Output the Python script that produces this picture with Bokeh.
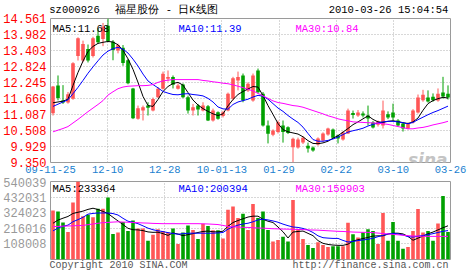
from bokeh.plotting import figure
from bokeh.models import (ColumnDataSource, Range1d, FixedTicker, PrintfTickFormatter, Label,
                          LinearAxis, CustomJSTickFormatter)
from bokeh.layouts import column
from bokeh.embed import file_html
from bokeh.resources import INLINE

# ---------------- data ----------------
stock_code = "sz000926"
stock_title = "福星股份 - 日K线图"
timestamp = "2010-03-26 15:04:54"
copyright_text = "Copyright 2010 SINA.COM"
site_text = "http://finance.sina.com.cn"
x_labels = ["09-11-25", "12-10", "12-28", "10-01-13", "01-29", "02-22", "03-10", "03-26"]
price_ticks = [9.350, 9.929, 10.508, 11.087, 11.666, 12.245, 12.824, 13.403, 13.982, 14.561]
volume_ticks = [108008, 216016, 324023, 432031, 540039]

opens = [11.13, 12.14, 11.59, 11.52, 11.66, 13.20, 13.04, 13.46, 13.20, 13.94,
         13.82, 14.30, 13.72, 13.40, 13.50, 13.05, 12.03, 10.93, 11.23, 11.41,
         11.23, 11.71, 12.02, 12.38, 12.44, 12.02, 12.17, 11.71, 11.23, 11.41,
         11.23, 11.39, 10.87, 11.17, 11.03, 11.23, 11.66, 12.32, 12.50, 11.96,
         11.59, 12.68, 11.84, 10.69, 10.35, 10.45, 10.69, 10.63, 9.90, 9.89,
         10.07, 9.96, 9.89, 10.00, 10.15, 10.36, 10.54, 10.33, 10.18, 10.40,
         11.14, 11.05, 11.12, 11.05, 10.80, 10.72, 10.69, 11.10, 11.16, 10.87,
         10.76, 10.58, 10.80, 11.16, 11.60, 11.70, 11.73, 11.59, 11.88, 11.84]
highs = [12.12, 12.50, 12.15, 11.90, 12.98, 13.88, 13.76, 13.62, 13.90, 14.20,
         14.40, 14.56, 13.78, 13.65, 13.60, 13.10, 12.05, 11.41, 11.41, 11.53,
         11.70, 12.08, 12.64, 12.68, 12.50, 12.21, 12.21, 11.77, 11.47, 11.47,
         11.53, 11.43, 11.30, 11.20, 11.22, 11.88, 12.45, 12.64, 12.57, 12.25,
         12.57, 12.75, 11.90, 10.87, 10.55, 10.87, 10.87, 10.66, 10.25, 10.25,
         10.30, 10.07, 9.93, 10.26, 10.44, 10.61, 10.58, 10.36, 10.48, 11.30,
         11.23, 11.25, 11.20, 11.41, 10.85, 10.87, 11.59, 11.20, 11.48, 10.92,
         10.80, 10.80, 11.28, 11.81, 11.98, 11.96, 11.85, 12.03, 12.45, 12.14]
lows = [11.05, 11.60, 11.47, 11.48, 11.62, 13.04, 12.98, 12.97, 13.15, 13.65,
        13.56, 13.70, 13.05, 13.30, 12.85, 12.18, 10.92, 10.90, 10.87, 11.05,
        11.20, 11.68, 11.99, 12.28, 12.03, 11.99, 11.68, 11.12, 11.05, 11.05,
        11.20, 10.85, 10.83, 10.90, 10.98, 11.20, 11.60, 11.96, 11.53, 11.90,
        11.55, 11.85, 10.65, 10.04, 10.30, 10.40, 10.07, 10.38, 9.36, 9.85,
        10.02, 9.71, 9.74, 9.96, 10.11, 10.32, 10.20, 10.04, 10.14, 10.38,
        10.94, 11.00, 10.98, 10.69, 10.58, 10.65, 10.58, 10.92, 10.87, 10.65,
        10.47, 10.55, 10.76, 11.12, 11.55, 11.52, 11.55, 11.55, 11.66, 11.63]
closes = [12.10, 11.68, 11.52, 11.82, 12.94, 13.85, 13.64, 13.04, 13.85, 13.70,
          14.26, 13.75, 13.42, 13.60, 12.95, 12.22, 10.95, 11.31, 11.35, 11.33,
          11.65, 12.02, 12.56, 12.44, 12.16, 12.14, 11.71, 11.23, 11.35, 11.27,
          11.41, 10.87, 11.23, 10.93, 11.17, 11.84, 12.40, 12.44, 11.59, 12.20,
          12.50, 11.89, 10.69, 10.39, 10.51, 10.81, 10.45, 10.42, 10.21, 10.18,
          10.25, 9.86, 9.78, 10.22, 10.40, 10.58, 10.25, 10.22, 10.44, 11.23,
          11.07, 11.16, 11.05, 10.94, 10.62, 10.83, 11.23, 10.98, 10.98, 10.69,
          10.58, 10.76, 11.23, 11.70, 11.80, 11.56, 11.60, 11.84, 11.74, 11.70]
volumes = [340000, 333000, 256000, 191000, 394000, 540039, 300000, 310000, 292000, 351000,
           351000, 430000, 176000, 187000, 259000, 198000, 270000, 214000, 214000, 130000,
           171000, 209000, 198000, 187000, 214000, 108000, 187000, 236000, 205000, 142000,
           248000, 232000, 203000, 203000, 146000, 344000, 367000, 288000, 317000, 205000,
           385000, 288000, 333000, 205000, 124000, 135000, 157000, 124000, 412000, 209000,
           142000, 101000, 79000, 119000, 101000, 86000, 92000, 92000, 92000, 254000,
           175000, 153000, 187000, 209000, 198000, 108000, 322000, 130000, 259000, 130000,
           74000, 86000, 198000, 349000, 187000, 198000, 130000, 250000, 439000, 191000]
ma5 = [11.51, 11.54, 11.57, 11.64, 12.14, 12.61, 13.02, 13.37, 13.55, 13.66,
       13.70, 13.73, 13.71, 13.61, 13.41, 13.10, 12.72, 12.25, 11.74, 11.41,
       11.38, 11.63, 11.92, 12.10, 12.21, 12.25, 12.15, 11.88, 11.61, 11.43,
       11.30, 11.20, 11.11, 11.05, 11.11, 11.40, 11.63, 11.81, 11.92, 12.01,
       12.10, 12.08, 11.77, 11.41, 11.09, 10.76, 10.54, 10.46, 10.42, 10.38,
       10.28, 10.14, 10.04, 10.03, 10.06, 10.12, 10.23, 10.32, 10.45, 10.58,
       10.72, 10.82, 10.93, 11.04, 10.91, 10.82, 10.80, 10.84, 10.86, 10.83,
       10.79, 10.76, 10.82, 10.96, 11.24, 11.48, 11.59, 11.66, 11.71, 11.68]
ma10 = [11.38, 11.46, 11.54, 11.62, 11.84, 12.07, 12.32, 12.58, 12.81, 13.03,
        13.24, 13.38, 13.47, 13.52, 13.45, 13.31, 13.09, 12.84, 12.55, 12.30,
        12.17, 12.05, 11.92, 11.86, 11.81, 11.80, 11.83, 11.84, 11.81, 11.79,
        11.76, 11.67, 11.54, 11.36, 11.29, 11.28, 11.45, 11.54, 11.59, 11.64,
        11.72, 11.78, 11.75, 11.64, 11.48, 11.32, 11.20, 11.05, 10.92, 10.80,
        10.63, 10.40, 10.18, 10.12, 10.12, 10.15, 10.20, 10.27, 10.36, 10.45,
        10.50, 10.54, 10.59, 10.67, 10.73, 10.78, 10.82, 10.84, 10.84, 10.82,
        10.79, 10.75, 10.80, 10.90, 10.99, 11.08, 11.16, 11.23, 11.31, 11.39]
ma30 = [10.46, 10.52, 10.58, 10.65, 10.78, 10.91, 11.05, 11.19, 11.32, 11.45,
        11.59, 11.79, 11.91, 12.02, 12.08, 12.11, 12.12, 12.13, 12.13, 12.14,
        12.17, 12.25, 12.30, 12.33, 12.35, 12.35, 12.35, 12.35, 12.35, 12.35,
        12.32, 12.30, 12.27, 12.25, 12.22, 12.20, 12.16, 12.11, 12.06, 12.00,
        11.94, 11.85, 11.76, 11.67, 11.58, 11.52, 11.49, 11.45, 11.41, 11.39,
        11.35, 11.29, 11.23, 11.17, 11.11, 11.04, 10.99, 10.93, 10.89, 10.86,
        10.82, 10.81, 10.80, 10.79, 10.78, 10.77, 10.75, 10.73, 10.69, 10.65,
        10.61, 10.57, 10.57, 10.60, 10.62, 10.66, 10.71, 10.75, 10.79, 10.84]
vol_ma5 = [251000, 273000, 286000, 298000, 319000, 327000, 335000, 347000, 355000, 346000,
           333000, 318000, 292000, 267000, 242000, 216000, 206000, 205000, 200000, 191000,
           188000, 189000, 179000, 167000, 184000, 176000, 165000, 172000, 179000, 187000,
           194000, 197000, 192000, 191000, 196000, 230000, 256000, 270000, 282000, 294000,
           300000, 300000, 278000, 265000, 256000, 225000, 192000, 149000, 190000, 194000,
           197000, 181000, 165000, 131000, 112000, 104000, 100000, 98000, 98000, 106000,
           128000, 137000, 145000, 153000, 162000, 164000, 164000, 176000, 182000, 182000,
           177000, 160000, 133000, 148000, 162000, 178000, 190000, 205000, 220000, 233364]
vol_ma10 = [198000, 218000, 230000, 238000, 262000, 276000, 292000, 314000, 319000, 322000,
            322000, 322000, 318000, 308000, 285000, 265000, 258000, 248000, 233000, 217000,
            206000, 199000, 193000, 186000, 180000, 175000, 179000, 182000, 182000, 182000,
            182000, 182000, 182000, 184000, 187000, 210000, 226000, 238000, 246000, 251000,
            261000, 274000, 279000, 274000, 267000, 258000, 245000, 234000, 225000, 222000,
            215000, 204000, 187000, 164000, 151000, 148000, 146000, 146000, 132000, 121000,
            125000, 131000, 135000, 140000, 147000, 158000, 167000, 177000, 181000, 177000,
            170000, 158000, 155000, 161000, 167000, 172000, 179000, 187000, 195000, 200394]
vol_ma30 = [228000, 229000, 231000, 232000, 233000, 235000, 236000, 241000, 246000, 251000,
            255000, 257000, 259000, 261000, 259000, 258000, 256000, 255000, 253000, 252000,
            250000, 249000, 248000, 248000, 248000, 248000, 248000, 248000, 248000, 248000,
            247000, 246000, 244000, 242000, 236000, 229000, 226000, 225000, 223000, 222000,
            220000, 218000, 217000, 215000, 213000, 212000, 211000, 210000, 209000, 208000,
            207000, 205000, 204000, 203000, 201000, 199000, 197000, 195000, 194000, 192000,
            190000, 189000, 188000, 188000, 186000, 183000, 180000, 177000, 174000, 171000,
            168000, 165000, 163000, 162000, 161000, 160000, 160000, 160000, 160000, 159903]

# ---------------- build ----------------
n = len(closes)
for arr in (opens, highs, lows, volumes, ma5, ma10, ma30, vol_ma5, vol_ma10, vol_ma30):
    assert len(arr) == n, len(arr)

RED = "#ff5656"
GREEN = "#00a000"
colors = [RED if c >= o else GREEN for o, c in zip(opens, closes)]
src = ColumnDataSource(dict(
    x=list(range(n)), high=highs, low=lows,
    top=[max(o, c) for o, c in zip(opens, closes)],
    bottom=[min(o, c) for o, c in zip(opens, closes)],
    color=colors, volume=volumes,
    ma5=ma5, ma10=ma10, ma30=ma30,
    vma5=vol_ma5, vma10=vol_ma10, vma30=vol_ma30))

W = 472
FL, FR = 50, 22
FW = W - FL - FR             # frame width in px
H1, H2 = 177, 96
FB1, FB2 = 162, 84           # frame bottoms in each figure's own pixels
MONO = "Liberation Mono"
GRID = "#b0b0b0"
FRAME = "#9a9a9a"
BODY_W = 0.72

x_range = Range1d(-0.5, n - 0.5)
grid_x = [-0.5 + n * k / 7 for k in range(8)]


def px2x(px):
    return -0.5 + (px - FL) * n / FW


def bare_axis(ax, color, size, standoff):
    ax.axis_line_color = None
    ax.major_tick_line_color = None
    ax.minor_tick_line_color = None
    ax.major_tick_out = 0
    ax.major_tick_in = 0
    ax.minor_tick_out = 0
    ax.minor_tick_in = 0
    ax.major_label_standoff = standoff
    ax.major_label_text_font = MONO
    ax.major_label_text_font_size = size
    ax.major_label_text_color = color


def style(p, ticks, fmt, color):
    p.outline_line_color = FRAME
    p.outline_line_width = 1
    p.background_fill_color = "white"
    p.border_fill_color = "white"
    p.yaxis.ticker = FixedTicker(ticks=ticks)
    p.yaxis.formatter = PrintfTickFormatter(format=fmt)
    bare_axis(p.yaxis[0], color, "12px", 4)
    p.xgrid.ticker = FixedTicker(ticks=grid_x[1:-1])
    p.ygrid.ticker = FixedTicker(ticks=[t for t in ticks if t != ticks[0] and t != ticks[-1]])
    p.xgrid.grid_line_color = GRID
    p.ygrid.grid_line_color = GRID
    p.xgrid.grid_line_dash = "1 2"
    p.ygrid.grid_line_dash = "1 2"


def put(p, fb, x, baseline, text, color="black", size="10.5px", font=MONO, align="left", style_=None):
    # Label screen units are measured from the frame's bottom-left corner
    lab = Label(x=x - FL, y=fb - baseline, x_units="screen", y_units="screen", text=text,
                text_color=color, text_font=font, text_font_size=size,
                text_align=align, text_baseline="alphabetic")
    if style_:
        lab.text_font_style = style_
    p.add_layout(lab)


# ---- price panel ----
p1 = figure(width=W, height=H1, x_range=x_range,
            y_range=Range1d(price_ticks[0] - 1e-6, price_ticks[-1] + 1e-6),
            output_backend="svg", toolbar_location=None,
            min_border_left=FL, min_border_right=FR, min_border_top=18, min_border_bottom=15)
style(p1, price_ticks, "%.3f", "#ff0000")

# date labels on the bottom axis
p1.xaxis.ticker = FixedTicker(ticks=grid_x)
p1.xaxis.formatter = CustomJSTickFormatter(args=dict(labels=x_labels, n=n),
                                           code="return labels[Math.round((tick + 0.5) * 7 / n)];")
bare_axis(p1.xaxis[0], "#1a7fd0", "10.5px", 3)

# header line as an axis above the frame
header = [stock_code, stock_title, timestamp]
header_axis = LinearAxis(ticker=FixedTicker(ticks=[px2x(74), px2x(166), px2x(388)]),
                         formatter=CustomJSTickFormatter(args=dict(labels=header),
                                                         code="return labels[index];"))
bare_axis(header_axis, "black", "10.5px", 3)
p1.add_layout(header_axis, "above")

p1.segment(x0="x", y0="low", x1="x", y1="high", line_color="color", line_width=1, source=src)
p1.vbar(x="x", width=BODY_W, top="top", bottom="bottom", fill_color="color", line_color=None, source=src)
p1.line("x", "ma5", line_color="black", line_width=1, source=src)
p1.line("x", "ma10", line_color="#0000ff", line_width=1, source=src)
p1.line("x", "ma30", line_color="#ff00ff", line_width=1, source=src)

put(p1, FB1, 52, 28.5, "MA5:%.2f" % ma5[-1])
put(p1, FB1, 178, 28.5, "MA10:%.2f" % ma10[-1], color="#0000ff")
put(p1, FB1, 295, 28.5, "MA30:%.2f" % ma30[-1], color="#ff00ff")
put(p1, FB1, 447, 159, "sina", color="#c4c4c4", size="17px", font="DejaVu Sans", align="right",
    style_="bold italic")

# ---- volume panel ----
p2 = figure(width=W, height=H2, x_range=x_range,
            y_range=Range1d(0, volume_ticks[-1] + 0.5),
            output_backend="svg", toolbar_location=None,
            min_border_left=FL, min_border_right=FR, min_border_top=4, min_border_bottom=12)
style(p2, [0] + volume_ticks, "%d", "#999999")
p2.yaxis.ticker = FixedTicker(ticks=volume_ticks)

# footer line as the bottom axis
footer = [copyright_text, site_text]
p2.xaxis.ticker = FixedTicker(ticks=[px2x(118), px2x(370)])
p2.xaxis.formatter = CustomJSTickFormatter(args=dict(labels=footer), code="return labels[index];")
bare_axis(p2.xaxis[0], "#555555", "10px", 0)

p2.vbar(x="x", width=BODY_W, top="volume", bottom=0, fill_color="color", line_color=None, source=src)
p2.line("x", "vma5", line_color="black", line_width=1, source=src)
p2.line("x", "vma10", line_color="#0000ff", line_width=1, source=src)
p2.line("x", "vma30", line_color="#ff00ff", line_width=1, source=src)

put(p2, FB2, 52, 13.5, "MA5:%d" % vol_ma5[-1])
put(p2, FB2, 178, 13.5, "MA10:%d" % vol_ma10[-1], color="#0000ff")
put(p2, FB2, 295, 13.5, "MA30:%d" % vol_ma30[-1], color="#ff00ff")

layout = column(p1, p2, spacing=0)
open("out.html", "w").write(file_html(layout, INLINE))
